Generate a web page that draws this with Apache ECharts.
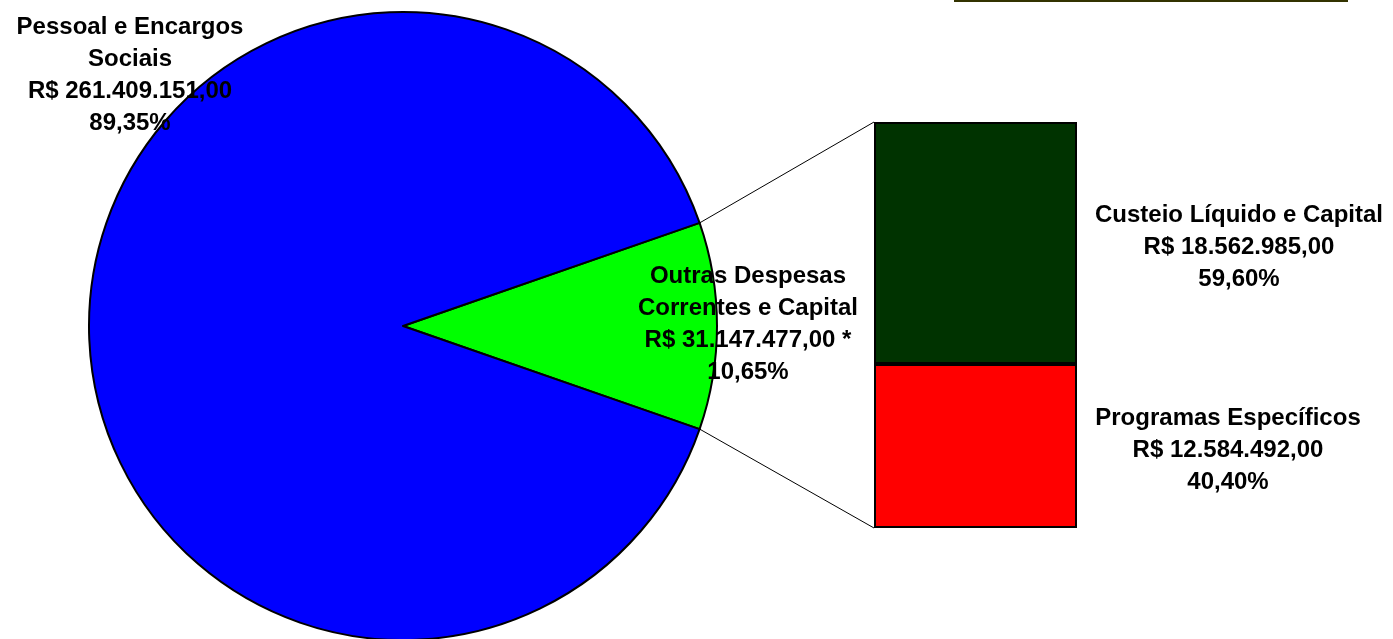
<!DOCTYPE html>
<html><head><meta charset="utf-8">
<script src="https://cdn.jsdelivr.net/npm/echarts@6/dist/echarts.min.js"></script>
<style>html,body{margin:0;padding:0;background:#fff}#c{width:1393px;height:639px}</style>
</head><body><div id="c"></div>
<script>
// ---- data ----
const pieNames = ['Outras Despesas\nCorrentes e Capital', 'Pessoal e Encargos\nSociais'];
const pieValues = [31147477, 261409151];
const pieColors = ['#00FF00', '#0000FF'];
const pieSuffix = [' *', ''];
const barNames = ['Programas Específicos', 'Custeio Líquido e Capital'];
const barValues = [12584492, 18562985];
const barColors = ['#FF0000', '#003300'];

// ---- layout ----
const PIE_CX = 403, PIE_CY = 326, PIE_R = 314;
const BAR_L = 874, BAR_T = 122, BAR_W = 203, BAR_H = 406;
const pieLabelPos = [[748, 324], [130, 75]];
const barLabelPos = [[1228, 450], [1239, 247]];
const FONT = {fontFamily: '"Liberation Sans", Arial, sans-serif', fontWeight: 'bold', fontSize: 24, lineHeight: 32, color: '#000'};

function brl(v) {
  return 'R$ ' + Math.round(v).toString().replace(/\B(?=(\d{3})+(?!\d))/g, '.') + ',00';
}
function pct(v, t) { return (v / t * 100).toFixed(2).replace('.', ',') + '%'; }

const pieTotal = pieValues.reduce((a, b) => a + b, 0);
const barTotal = barValues.reduce((a, b) => a + b, 0);
const halfAngle = pieValues[0] / pieTotal * Math.PI; // half of green slice, radians
const startDeg = halfAngle * 180 / Math.PI;

const chart = echarts.init(document.getElementById('c'));

const barSeries = barValues.map((v, i) => ({
  type: 'bar',
  stack: 's',
  data: [v],
  barWidth: '100%',
  itemStyle: {color: barColors[i], borderColor: '#000', borderWidth: 2},
  label: Object.assign({show: true, formatter: () => barNames[i] + '\n' + brl(v) + '\n' + pct(v, barTotal)}, FONT),
  labelLayout: () => ({x: barLabelPos[i][0], y: barLabelPos[i][1], align: 'center', verticalAlign: 'middle'}),
  silent: true
}));

const px = PIE_CX + PIE_R * Math.cos(halfAngle);
const pyTop = PIE_CY - PIE_R * Math.sin(halfAngle);
const pyBot = PIE_CY + PIE_R * Math.sin(halfAngle);

chart.setOption({
  animation: false,
  backgroundColor: '#fff',
  grid: {left: BAR_L, top: BAR_T, width: BAR_W, height: BAR_H},
  xAxis: {type: 'category', data: [''], show: false},
  yAxis: {type: 'value', min: 0, max: barTotal, show: false},
  graphic: [
    {type: 'line', shape: {x1: px, y1: pyTop, x2: BAR_L, y2: BAR_T}, style: {stroke: '#000', lineWidth: 1}, z: 0},
    {type: 'line', shape: {x1: px, y1: pyBot, x2: BAR_L, y2: BAR_T + BAR_H}, style: {stroke: '#000', lineWidth: 1}, z: 0},
    {type: 'rect', shape: {x: 954, y: 0, width: 394, height: 2}, style: {fill: '#333300'}}
  ],
  series: [
    {
      type: 'pie',
      center: [PIE_CX, PIE_CY],
      radius: [0, PIE_R],
      startAngle: startDeg,
      clockwise: true,
      silent: true,
      labelLine: {show: false},
      data: pieValues.map((v, i) => ({
        value: v,
        name: pieNames[i],
        itemStyle: {color: pieColors[i], borderColor: '#000', borderWidth: 2},
        label: Object.assign({show: true, position: 'inside',
          formatter: () => pieNames[i] + '\n' + brl(v) + pieSuffix[i] + '\n' + pct(v, pieTotal)}, FONT)
      })),
      labelLayout: (p) => ({x: pieLabelPos[p.dataIndex][0], y: pieLabelPos[p.dataIndex][1], align: 'center', verticalAlign: 'middle'})
    }
  ].concat(barSeries)
});
</script>
</body></html>
